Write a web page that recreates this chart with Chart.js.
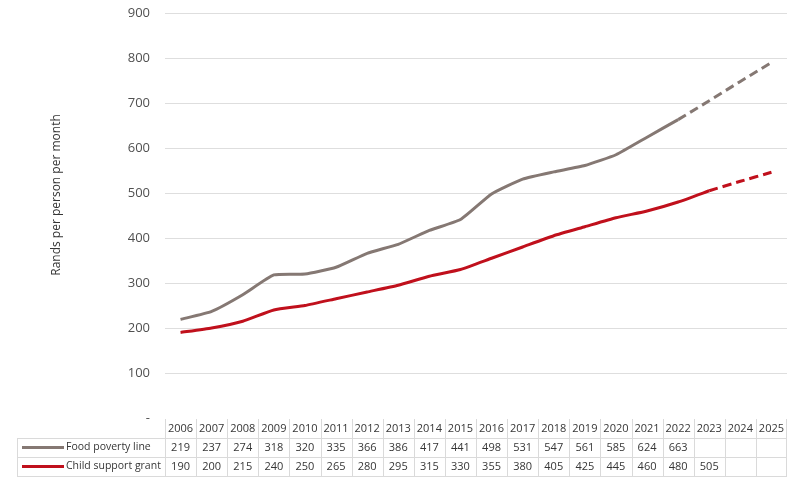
<!DOCTYPE html>
<html>
<head>
<meta charset="utf-8">
<script src="https://cdn.jsdelivr.net/npm/chart.js@4"></script>
<style>
  html, body { margin: 0; padding: 0; background: #ffffff; }
  #wrap { width: 787px; height: 477px; position: relative; }
</style>
</head>
<body>
<div id="wrap"><canvas id="c" width="787" height="477"></canvas></div>
<script>
const years = ['2006','2007','2008','2009','2010','2011','2012','2013','2014','2015','2016','2017','2018','2019','2020','2021','2022','2023','2024','2025'];
const foodPovertyLine = [219,237,274,318,320,335,366,386,417,441,498,531,547,561,585,624,663,null,null,null];
const childSupportGrant = [190,200,215,240,250,265,280,295,315,330,355,380,405,425,445,460,480,505,null,null];
const foodProjection = [null,null,null,null,null,null,null,null,null,null,null,null,null,null,null,null,663,705,748,790];
const grantProjection = [null,null,null,null,null,null,null,null,null,null,null,null,null,null,null,null,null,505,526,546];
const seriesNames = ['Food poverty line', 'Child support grant'];
const yTicks = [0,100,200,300,400,500,600,700,800,900];
const axisTitle = 'Rands per person per month';

const GRAY = '#857873';
const RED = '#c0101c';
const BORDER = '#dadada';
const TEXT = '#363636';

const tablePlugin = {
  id: 'dataTable',
  afterDraw(chart) {
    const ctx = chart.ctx;
    const xs = chart.scales.x;
    const area = chart.chartArea;
    const n = years.length;
    const colW = (area.right - area.left) / n;
    const top = area.bottom + 1;
    const rowH = 19;
    const leftEdge = 17;
    ctx.save();
    ctx.save();
    ctx.translate(57, 195);
    ctx.rotate(-Math.PI / 2);
    ctx.font = '12px "Open Sans"';
    ctx.fillStyle = TEXT;
    ctx.textAlign = 'center';
    ctx.textBaseline = 'middle';
    ctx.fillText(axisTitle, 0, 0);
    ctx.restore();

    ctx.strokeStyle = BORDER;
    ctx.lineWidth = 1;
    const hLine = (x1, x2, y) => { ctx.beginPath(); ctx.moveTo(x1, Math.round(y) + 0.5); ctx.lineTo(x2, Math.round(y) + 0.5); ctx.stroke(); };
    const vLine = (x, y1, y2) => { ctx.beginPath(); ctx.moveTo(Math.round(x) + 0.5, y1); ctx.lineTo(Math.round(x) + 0.5, y2); ctx.stroke(); };
    hLine(leftEdge, area.right, top + rowH);
    hLine(leftEdge, area.right, top + rowH * 2);
    hLine(leftEdge, area.right, top + rowH * 3);
    vLine(leftEdge, top + rowH, top + rowH * 3);
    for (let i = 0; i <= n; i++) {
      const x = i < n ? xs.getPixelForValue(i) - colW / 2 : xs.getPixelForValue(n - 1) + colW / 2;
      vLine(Math.min(x, area.right - 1), top, top + rowH * 3);
    }
    ctx.font = '11px "Open Sans"';
    ctx.fillStyle = TEXT;
    ctx.textBaseline = 'middle';
    ctx.textAlign = 'center';
    years.forEach((y, i) => {
      const x = xs.getPixelForValue(i);
      ctx.fillText(y, x, top + rowH / 2);
      if (foodPovertyLine[i] != null) ctx.fillText(String(foodPovertyLine[i]), x, top + rowH * 1.5);
      if (childSupportGrant[i] != null) ctx.fillText(String(childSupportGrant[i]), x, top + rowH * 2.5);
    });
    const keyColors = [GRAY, RED];
    ctx.font = '10.5px "Open Sans"';
    seriesNames.forEach((name, r) => {
      const cy = top + rowH * (1.5 + r);
      ctx.strokeStyle = keyColors[r];
      ctx.lineWidth = 3;
      ctx.beginPath(); ctx.moveTo(22, cy); ctx.lineTo(64, cy); ctx.stroke();
      ctx.textAlign = 'left';
      ctx.fillStyle = TEXT;
      ctx.fillText(name, 66, cy);
    });
    ctx.restore();
  }
};

new Chart(document.getElementById('c'), {
  type: 'line',
  data: {
    labels: years,
    datasets: [
      { label: seriesNames[0], data: foodPovertyLine, borderColor: GRAY, borderWidth: 3, pointRadius: 0, tension: 0.15, spanGaps: false },
      { label: seriesNames[1], data: childSupportGrant, borderColor: RED, borderWidth: 3, pointRadius: 0, tension: 0.15, spanGaps: false },
      { label: seriesNames[0] + ' (projected)', data: foodProjection, borderColor: GRAY, borderWidth: 3, borderDash: [9, 5], pointRadius: 0, tension: 0 },
      { label: seriesNames[1] + ' (projected)', data: grantProjection, borderColor: RED, borderWidth: 3, borderDash: [9, 5], pointRadius: 0, tension: 0.15 }
    ]
  },
  options: {
    responsive: false,
    animation: false,
    devicePixelRatio: 1,
    layout: { padding: { top: 13, bottom: 59, left: 0, right: 0 } },
    plugins: { legend: { display: false }, tooltip: { enabled: false } },
    scales: {
      x: { display: false, offset: true },
      y: {
        min: 0, max: 900,
        afterFit(scale) { scale.width = 165; scale.paddingTop = 0; scale.paddingBottom = 0; },
        afterBuildTicks(scale) { scale.ticks = yTicks.map(v => ({ value: v })); },
        border: { display: false },
        grid: {
          drawTicks: false,
          color: (c) => (c.tick && c.tick.value === 0) ? 'rgba(0,0,0,0)' : '#dedede',
          lineWidth: 1
        },
        ticks: {
          padding: 15,
          color: '#505050',
          font: { family: 'Open Sans', size: 13 },
          callback: (v) => v === 0 ? '-' : String(v)
        }
      }
    }
  },
  plugins: [tablePlugin]
});
</script>
</body>
</html>
